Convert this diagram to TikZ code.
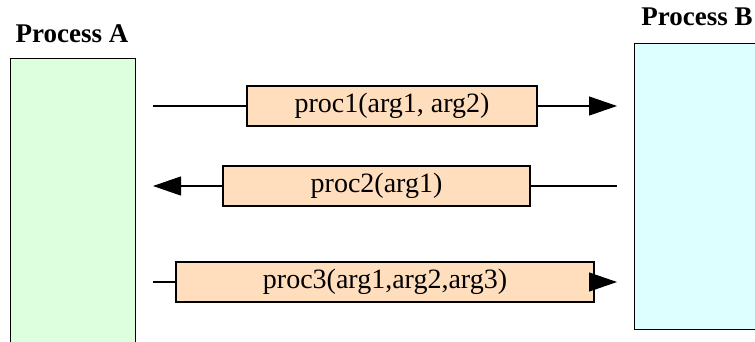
\documentclass[tikz,border=0pt]{standalone}
\usepackage{fontspec}
\setmainfont{Liberation Serif}
\usetikzlibrary{arrows.meta}
\definecolor{procgreen}{HTML}{DDFFDD}
\definecolor{proccyan}{HTML}{DDFFFF}
\definecolor{callfill}{HTML}{FFDEBE}
\tikzset{
  procbox/.style={draw=black, line width=1pt, rectangle},
  callbox/.style={draw=black, line width=1.2pt, fill=callfill, rectangle,
    minimum height=40pt, inner sep=0pt, font=\fontsize{28}{32}\selectfont},
  proclabel/.style={anchor=base, font=\fontsize{27}{32}\selectfont\bfseries},
  callline/.style={line width=1.2pt, -{Triangle[length=28pt,width=19pt]}}
}
\begin{document}
\begin{tikzpicture}[x=1pt, y=-1pt]
    \clip (0,0) rectangle (755,341);

    % the two processes
    \draw[procbox, fill=procgreen] (10,58) rectangle (135,360);
    \draw[procbox, fill=proccyan] (634,43) rectangle (780,329);
    \node[proclabel] (labA) at (72,42) {Process A};
    \node[proclabel] (labB) at (697,25) {Process B};

    % ends of the calls
    \coordinate (a1) at (153,106);
    \coordinate (b1) at (617,106);
    \coordinate (a2) at (153,186);
    \coordinate (b2) at (617,186);
    \coordinate (a3) at (153,282);
    \coordinate (b3) at (617,282);

    \node[callbox, minimum width=290pt] (call1) at (392,106) {proc1(arg1, arg2)};
    \node[callbox, minimum width=307pt] (call2) at (376.5,186) {proc2(arg1)};
    \node[callbox, minimum width=418pt] (call3) at (385,282) {proc3(arg1,arg2,arg3)};

    \draw[line width=1.2pt] (a1) -- (call1.west);
    \draw[callline] (call1.east) -- (b1);

    \draw[line width=1.2pt] (b2) -- (call2.east);
    \draw[callline] (call2.west) -- (a2);

    \draw[line width=1.2pt] (a3) -- (call3.west);
    \draw[callline] (call3.east) -- (b3);
\end{tikzpicture}
\end{document}
